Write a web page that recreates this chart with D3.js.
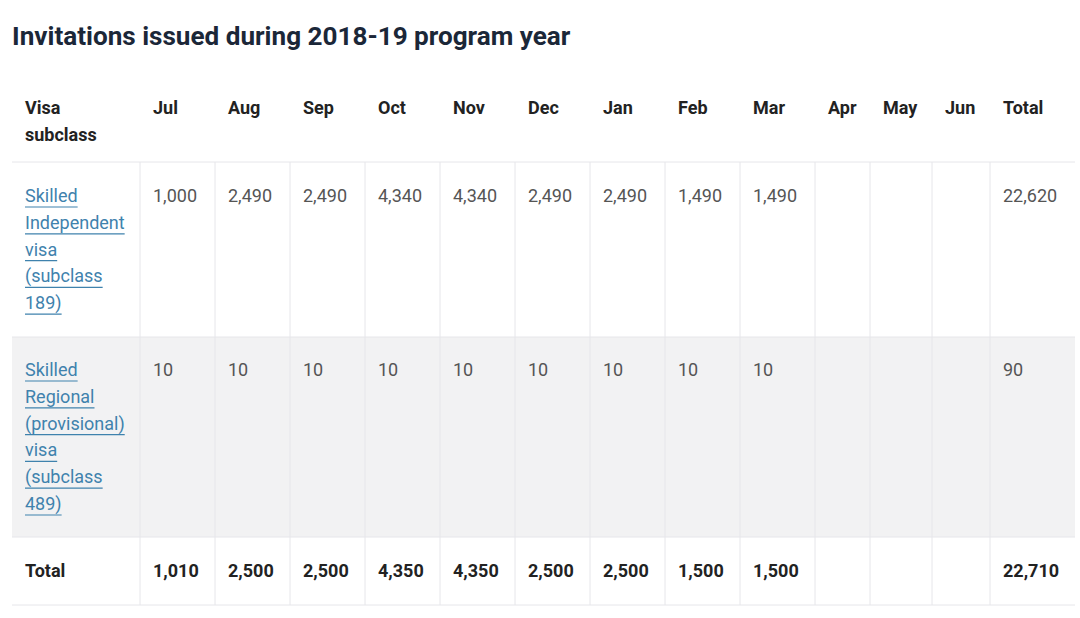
<!DOCTYPE html>
<html><head><meta charset="utf-8">
<script src="https://cdn.jsdelivr.net/npm/d3@7"></script>
<style>body{margin:0;background:#fff;font-family:Roboto,"Noto Sans",sans-serif;}</style>
</head><body><svg id="c" width="1080" height="618"></svg>
<script>
// data
const title = "Invitations issued during 2018-19 program year";
const months = ["Jul","Aug","Sep","Oct","Nov","Dec","Jan","Feb","Mar","Apr","May","Jun"];
const visa189 = [1000,2490,2490,4340,4340,2490,2490,1490,1490,null,null,null];
const visa489 = [10,10,10,10,10,10,10,10,10,null,null,null];
const totals = [1010,2500,2500,4350,4350,2500,2500,1500,1500,null,null,null];
const total189 = 22620, total489 = 90, grandTotal = 22710;
const label189 = ["Skilled","Independent","visa","(subclass","189)"];
const label489 = ["Skilled","Regional","(provisional)","visa","(subclass","489)"];

// layout
const colEdges = [12,140,215,290,365,440,515,590,665,740,815,870,932,990,1075];
const rows = [{y0:80,y1:162},{y0:162,y1:337},{y0:337,y1:537},{y0:537,y1:605}];
const lh = 26.8, pad = 13;
const fmt = d3.format(",");
const svg = d3.select("#c");

svg.append("text").attr("x",12).attr("y",45).attr("font-size",26.1).attr("font-weight",700)
  .attr("fill","#1b2738").text(title);

svg.append("rect").attr("x",12).attr("y",rows[2].y0).attr("width",1063)
  .attr("height",rows[2].y1-rows[2].y0).attr("fill","#f2f2f3");

[162,337,537,605].forEach(y=>svg.append("line").attr("x1",12).attr("x2",1075)
  .attr("y1",y).attr("y2",y).attr("stroke","#e6e6ea"));
colEdges.slice(1,-1).forEach(x=>svg.append("line").attr("x1",x).attr("x2",x)
  .attr("y1",162).attr("y2",605).attr("stroke","#e6e6ea"));

function cell(ci, y, lines, opts={}){
  const t = svg.append("text").attr("x",colEdges[ci]+pad).attr("y",y)
    .attr("font-size",18).attr("fill",opts.color||"#333")
    .attr("font-weight",opts.bold?700:400);
  lines.forEach((l,i)=>t.append("tspan").attr("x",colEdges[ci]+pad).attr("dy",i?lh:0).text(l));
  if(opts.link){
    t.selectAll("tspan").each(function(d,i){
      const w = this.getComputedTextLength();
      svg.append("line").attr("x1",colEdges[ci]+pad).attr("x2",colEdges[ci]+pad+w)
        .attr("y1",y+i*lh+5).attr("y2",y+i*lh+5).attr("stroke","#3f82ad").attr("stroke-width",1.2);
    });
  }
}

// header
cell(0,114,["Visa","subclass"],{bold:true,color:"#222"});
months.forEach((m,i)=>cell(i+1,114,[m],{bold:true,color:"#222"}));
cell(13,114,["Total"],{bold:true,color:"#222"});

// body
cell(0,202,label189,{link:true,color:"#3f82ad"});
visa189.forEach((v,i)=>{ if(v!=null) cell(i+1,202,[fmt(v)],{color:"#555"}); });
cell(13,202,[fmt(total189)],{color:"#555"});

cell(0,376,label489,{link:true,color:"#3f82ad"});
visa489.forEach((v,i)=>{ if(v!=null) cell(i+1,376,[fmt(v)],{color:"#555"}); });
cell(13,376,[fmt(total489)],{color:"#555"});

cell(0,577,["Total"],{bold:true,color:"#222"});
totals.forEach((v,i)=>{ if(v!=null) cell(i+1,577,[fmt(v)],{bold:true,color:"#222"}); });
cell(13,577,[fmt(grandTotal)],{bold:true,color:"#222"});
</script></body></html>
